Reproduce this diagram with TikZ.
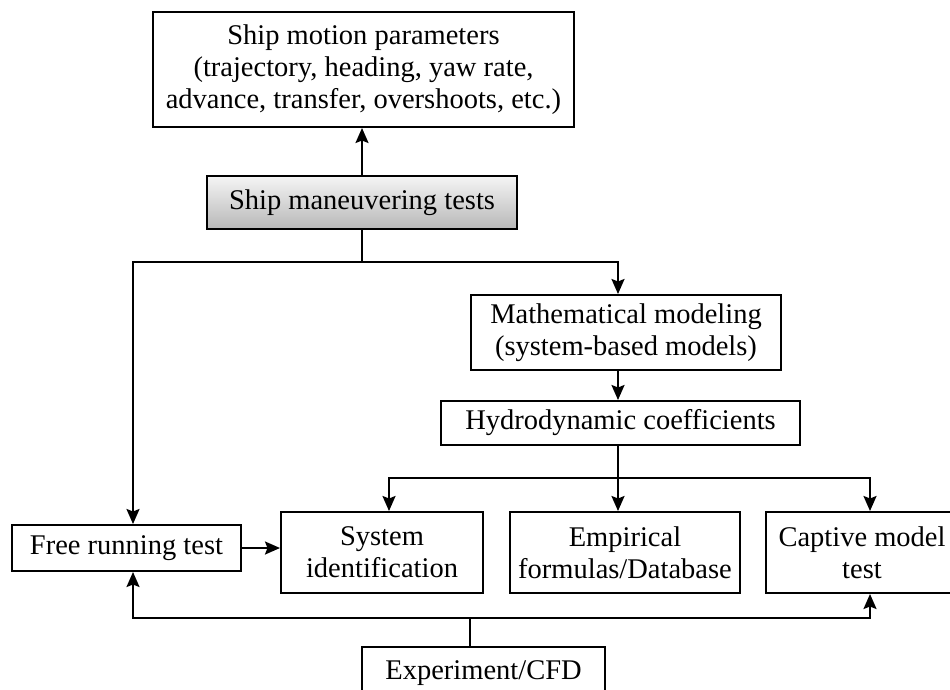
\documentclass[tikz,border=0pt]{standalone}
\usepackage{fontspec}
\setmainfont{Liberation Serif}
\usetikzlibrary{arrows.meta,calc}
\tikzset{
  box/.style={draw=black, line width=2pt, align=center, inner sep=0pt, font=\fontsize{28.5}{32}\selectfont, text=black},
  conn/.style={line width=2pt, draw=black},
  arr/.style={conn, -{Stealth[length=15pt,width=13pt,inset=2.5pt]}},
}
\begin{document}
\begin{tikzpicture}[x=1pt,y=-1pt]
\useasboundingbox (0,0) rectangle (950,689);
\clip (0,0) rectangle (950,689);
\fill[white] (0,0) rectangle (950,689);
% nodes
\node[box, minimum width=421pt, minimum height=115pt] (top) at (363.5,69.5) {Ship motion parameters\\(trajectory, heading, yaw rate,\\advance, transfer, overshoots, etc.)};
\node[box, minimum width=310pt, minimum height=53pt, top color=black!4, bottom color=black!28] (gray) at (362,202.5) {Ship maneuvering tests};
\node[box, minimum width=310pt, minimum height=75pt] (math) at (626,332.5) {Mathematical modeling\\(system-based models)};
\node[box, minimum width=359pt, minimum height=44pt] (hydro) at (620.5,423) {Hydrodynamic coefficients};
\node[box, minimum width=229pt, minimum height=46pt] (free) at (126.5,548) {Free running test};
\node[box, minimum width=202pt, minimum height=81pt] (sysid) at (382,552.5) {System\\identification};
\node[box, minimum width=230pt, minimum height=81pt] (emp) at (625,552.5) {Empirical\\formulas/Database};
\node[box, minimum width=192pt, minimum height=81pt] (cap) at (862,552.5) {Captive model\\test};
\node[box, minimum width=243pt, minimum height=53pt] (exp) at (483.5,673.5) {Experiment/CFD};
% helper x positions
\coordinate (lx) at (133,0);
\coordinate (mx) at (618,0);
\coordinate (sx) at (389,0);
\coordinate (cx) at (870,0);
\coordinate (ex) at (470,0);
\coordinate (j1) at (362,262);
\coordinate (j2) at (618,478);
\coordinate (j3) at (470,618);
% connectors
\draw[arr] (gray.north) -- (gray.north |- top.south);
\draw[conn] (gray.south) -- (j1);
\draw[arr] (j1) -| (free.north -| lx);
\draw[arr] (j1) -| (math.north -| mx);
\draw[arr] (math.south -| mx) -- (hydro.north -| mx);
\draw[conn] (hydro.south -| mx) -- (j2);
\draw[arr] (j2) -| (sysid.north -| sx);
\draw[arr] (j2) -- (emp.north -| mx);
\draw[arr] (j2) -| (cap.north -| cx);
\draw[arr] (free.east) -- (free.east -| sysid.west);
\draw[conn] (exp.north -| ex) -- (j3);
\draw[arr] (j3) -| (free.south -| lx);
\draw[arr] (j3) -| (cap.south -| cx);
\end{tikzpicture}
\end{document}
